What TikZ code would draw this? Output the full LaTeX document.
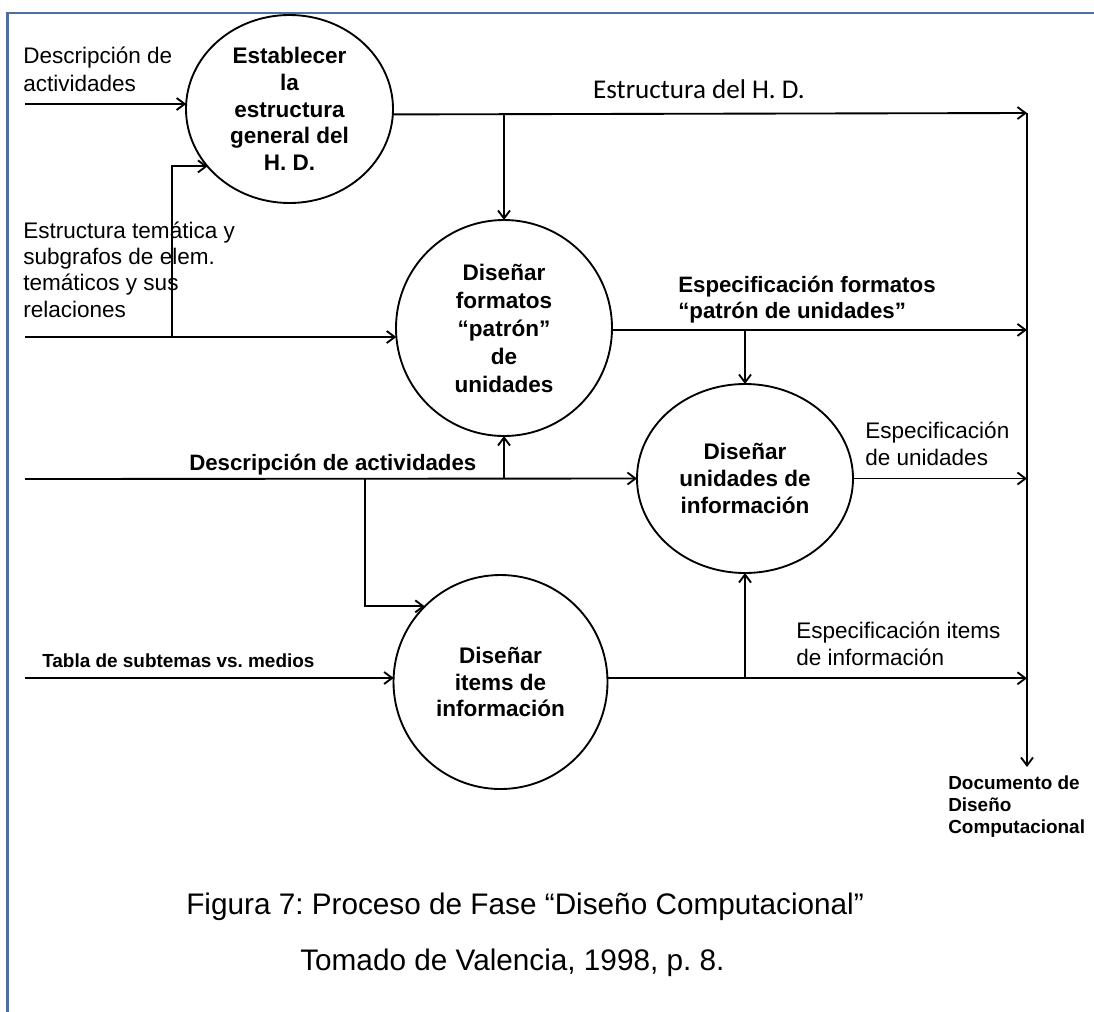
\documentclass[tikz,border=0pt]{standalone}
\usepackage{fontspec}
\setmainfont{Liberation Sans}
\newfontfamily\calibfont{Carlito}
\usetikzlibrary{arrows.meta,shapes.geometric}
\frenchspacing

\definecolor{framecol}{RGB}{78,110,160}

\begin{document}
\begin{tikzpicture}[x=0.75pt,y=-0.75pt,
  proc/.style={draw, ellipse, line width=1.4pt, inner sep=0pt, outer sep=0pt,
    align=center, font=\fontsize{16.9}{20}\selectfont\bfseries},
  wire/.style={line width=1.4pt},
  flow/.style={line width=1.4pt, -{Straight Barb[length=6pt,width=9pt]}},
  % multi-line labels are placed by the baseline of their last line
  lbl/.style={inner sep=0pt, anchor=base west, align=left},
  regtext/.style={font=\fontsize{16.9}{20.25}\selectfont},
  boldtext/.style={font=\fontsize{16.7}{19.5}\selectfont\bfseries},
  smallbold/.style={font=\fontsize{14.2}{16.5}\selectfont\bfseries},
  captext/.style={inner sep=0pt, anchor=base west, font=\fontsize{22.3}{26}\selectfont}
]
\useasboundingbox (0,0) rectangle (1094,1011);

% page frame
\draw[framecol, line width=2.2pt, line join=miter] (7.5,1012) -- (7.5,13) -- (1095,13);

% processes
\node[proc, minimum width=155.25pt, minimum height=141pt] (c1) at (289.5,109)
  {Establecer\\la\\estructura\\general del\\H. D.};
\node[proc, minimum width=162pt, minimum height=162pt,
  font=\fontsize{16.9}{21}\selectfont\bfseries] (c2) at (504,328)
  {Diseñar\\formatos\\“patrón”\\de\\unidades};
\node[proc, minimum width=162pt, minimum height=141.75pt] (c3) at (745,478.5)
  {Diseñar\\unidades de\\información};
\node[proc, minimum width=160.5pt, minimum height=160.5pt] (c4) at (500.5,682)
  {Diseñar\\items de\\información};

% flow labels
\node[lbl, regtext, font=\fontsize{16.9}{21}\selectfont] (t-desc1) at (23,91) {Descripción de\\actividades};
\node[lbl, regtext, font=\fontsize{16.9}{19.7}\selectfont] (t-tema) at (23,317)
  {Estructura temática y\\subgrafos de elem.\\temáticos y sus\\relaciones};
\node[inner sep=0pt, anchor=base, font=\fontsize{20.3}{24}\calibfont] (t-estr) at (699,98) {Estructura del H. D.};
\node[lbl, boldtext] (t-formatos) at (678,318) {Especificación formatos\\“patrón de unidades”};
\node[lbl, boldtext] (t-desc2) at (189,470) {Descripción de actividades};
\node[lbl, smallbold] (t-tabla) at (42,667) {Tabla de subtemas vs. medios};
\node[lbl, regtext] (t-unid) at (865,465) {Especificación\\de unidades};
\node[lbl, regtext] (t-items) at (796,665) {Especificación items\\de información};
\node[lbl, smallbold] (t-doc) at (948,833) {Documento de\\Diseño\\Computacional};

% free ends and junctions
\coordinate (in1) at (25,104);
\coordinate (in2) at (25,337);
\coordinate (in3) at (25,479);
\coordinate (in4) at (25,678);
\coordinate (j-tema) at (172,337);
\coordinate (j-estr) at (504,113);
\coordinate (j-form) at (745,330);
\coordinate (j-desc) at (504,479);
\coordinate (j-items-d) at (365,479);
\coordinate (j-items-u) at (745,678);
\coordinate (col) at (1027,113);
\coordinate (doc) at (1027,767);

% inputs
\draw[flow] (in1) -- (in1 -| c1.177.2);
\draw[flow] (in2) -- (in2 -| c2.184.8);
\draw[flow] (j-tema) |- (c1.215.5);
\draw[flow] (in3) -- (c3.west);
\draw[flow] (j-desc) -- (c2.south);
\draw[flow] (j-items-d) |- (c4.135.5);
\draw[flow] (in4) -- (in4 -| c4.177.9);

% outputs
\draw[flow] (c1.357.8) -- (col);
\draw[flow] (j-estr) -- (c2.north);
\draw[flow] (c2.-1) -- (c2.-1 -| col);
\draw[flow] (j-form) -- (c3.north);
\draw[flow] (c3.east) -- (c3.east -| col);
\draw[flow] (c4.2.1) -- (c4.2.1 -| col);
\draw[flow] (j-items-u) -- (c3.south);

% collector to the final document
\draw[flow] (col) -- (doc);

% caption
\node[captext] (fig) at (186,914) {Figura 7: Proceso de Fase “Diseño Computacional”};
\node[captext] (src) at (300,970) {Tomado de Valencia, 1998, p. 8.};
\end{tikzpicture}
\end{document}
